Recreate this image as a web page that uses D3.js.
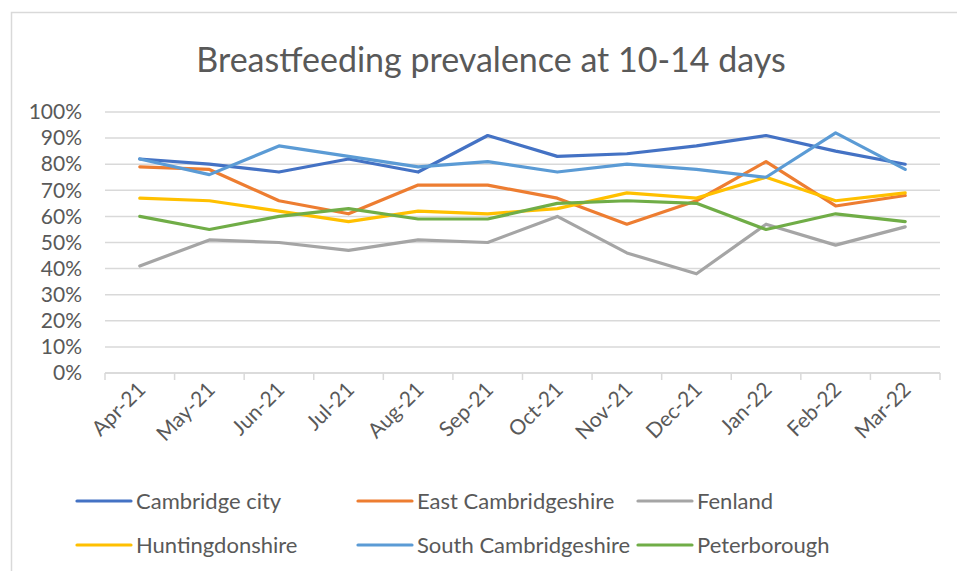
<!DOCTYPE html>
<html>
<head>
<meta charset="utf-8">
<script src="https://cdn.jsdelivr.net/npm/d3@7"></script>
<style>
  body { margin: 0; background: #fff; }
  svg { display: block; font-family: Lato, "Noto Sans", sans-serif; }
</style>
</head>
<body>
<div id="chart"></div>
<script>
// data
var months = ["Apr-21", "May-21", "Jun-21", "Jul-21", "Aug-21", "Sep-21",
              "Oct-21", "Nov-21", "Dec-21", "Jan-22", "Feb-22", "Mar-22"];

var cambridgeCity   = [82, 80, 77, 82, 77, 91, 83, 84, 87, 91, 85, 80];
var eastCambs       = [79, 78, 66, 61, 72, 72, 67, 57, 66, 81, 64, 68];
var fenland         = [41, 51, 50, 47, 51, 50, 60, 46, 38, 57, 49, 56];
var huntingdonshire = [67, 66, 62, 58, 62, 61, 63, 69, 67, 75, 66, 69];
var southCambs      = [82, 76, 87, 83, 79, 81, 77, 80, 78, 75, 92, 78];
var peterborough    = [60, 55, 60, 63, 59, 59, 65, 66, 65, 55, 61, 58];

var seriesNames = ["Cambridge city", "East Cambridgeshire", "Fenland",
                   "Huntingdonshire", "South Cambridgeshire", "Peterborough"];
var seriesColors = ["#4472c4", "#ed7d31", "#a5a5a5", "#ffc000", "#5b9bd5", "#70ad47"];
var yTicks = [0, 10, 20, 30, 40, 50, 60, 70, 80, 90, 100];

var series = [cambridgeCity, eastCambs, fenland, huntingdonshire, southCambs, peterborough]
  .map(function(vals, i) { return { name: seriesNames[i], color: seriesColors[i], values: vals }; });

var svgWidth = 957, svgHeight = 571;
var margin = { top: 112, left: 105, right: 17, bottom: 198 };
var width = 940 - margin.left;
var height = 373 - margin.top;

var svg = d3.select("#chart").append("svg")
  .attr("width", svgWidth)
  .attr("height", svgHeight);

// outer chart frame (cut off on the right/bottom like the reference)
svg.append("rect")
  .attr("x", 11.5).attr("y", 12.5)
  .attr("width", 1000).attr("height", 700)
  .attr("fill", "none")
  .attr("stroke", "#d9d9d9")
  .attr("stroke-width", 1.5);

svg.append("text")
  .attr("x", 491).attr("y", 72)
  .attr("text-anchor", "middle")
  .attr("fill", "#595959")
  .style("font-size", "34px")
  .text("Breastfeeding prevalence at 10-14 days");

var chartGroup = svg.append("g")
  .attr("transform", `translate(${margin.left}, ${margin.top})`);

var xScale = d3.scaleBand()
  .domain(months)
  .range([0, width]);

var yScale = d3.scaleLinear()
  .domain([0, 100])
  .range([height, 0]);

// gridlines
chartGroup.append("g")
  .selectAll("line")
  .data(yTicks)
  .enter()
  .append("line")
  .attr("x1", 0).attr("x2", width)
  .attr("y1", d => yScale(d)).attr("y2", d => yScale(d))
  .attr("stroke", "#d9d9d9")
  .attr("stroke-width", 1.5);

// y axis labels
var yAxis = d3.axisLeft(yScale)
  .tickValues(yTicks)
  .tickSize(0)
  .tickPadding(23)
  .tickFormat(d => d + "%");

var yAxisG = chartGroup.append("g").call(yAxis);
yAxisG.select(".domain").remove();
yAxisG.selectAll("text")
  .attr("fill", "#595959")
  .style("font-size", "21px")
  .style("font-family", "Lato, 'Noto Sans', sans-serif");

// x axis with ticks between categories
var xAxisG = chartGroup.append("g")
  .attr("transform", `translate(0, ${height})`);

xAxisG.append("line")
  .attr("x1", 0).attr("x2", width)
  .attr("stroke", "#d9d9d9").attr("stroke-width", 1.5);

xAxisG.selectAll(".tk")
  .data(d3.range(months.length + 1))
  .enter()
  .append("line")
  .attr("class", "tk")
  .attr("x1", i => i * xScale.step()).attr("x2", i => i * xScale.step())
  .attr("y1", 0).attr("y2", 7)
  .attr("stroke", "#d9d9d9").attr("stroke-width", 1.5);

xAxisG.selectAll(".lbl")
  .data(months)
  .enter()
  .append("text")
  .attr("class", "lbl")
  .attr("text-anchor", "end")
  .attr("fill", "#595959")
  .style("font-size", "21px")
  .attr("transform", d => `translate(${xScale(d) + xScale.bandwidth() / 2 + 7}, 18) rotate(-45)`)
  .text(d => d);

// lines
var line = d3.line()
  .x((d, i) => xScale(months[i]) + xScale.bandwidth() / 2)
  .y(d => yScale(d));

chartGroup.selectAll(".series")
  .data(series)
  .enter()
  .append("path")
  .attr("class", "series")
  .attr("fill", "none")
  .attr("stroke", d => d.color)
  .attr("stroke-width", 3.2)
  .attr("stroke-linejoin", "round")
  .attr("stroke-linecap", "round")
  .attr("d", d => line(d.values));

// legend: 3 columns, 2 rows
var legendX = [77, 358, 638];
var legendY = [501, 545];

var legend = svg.selectAll(".legend")
  .data(series)
  .enter()
  .append("g")
  .attr("class", "legend")
  .attr("transform", (d, i) => `translate(${legendX[i % 3]}, ${legendY[Math.floor(i / 3)]})`);

legend.append("line")
  .attr("x1", 0).attr("x2", 54)
  .attr("stroke", d => d.color)
  .attr("stroke-width", 3.2)
  .attr("stroke-linecap", "round");

legend.append("text")
  .attr("x", 59)
  .attr("dy", "0.35em")
  .attr("fill", "#595959")
  .style("font-size", "22px")
  .text(d => d.name);
</script>
</body>
</html>
